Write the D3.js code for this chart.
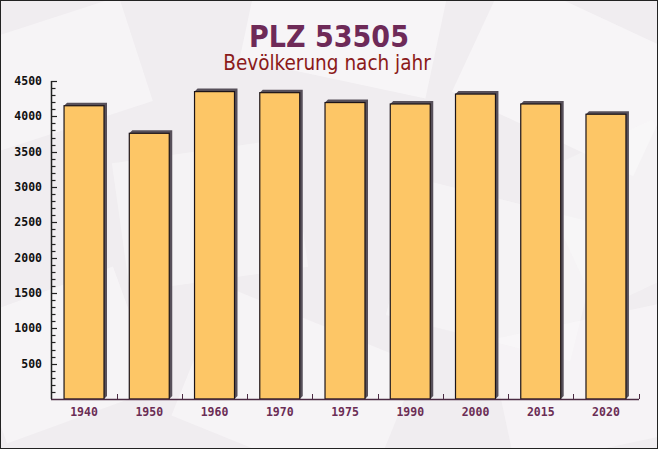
<!DOCTYPE html>
<html>
<head>
<meta charset="utf-8">
<script src="https://cdn.jsdelivr.net/npm/d3@7"></script>
<style>
  html, body { margin: 0; padding: 0; background: #fff; }
  svg { display: block; }
</style>
</head>
<body>
<svg id="chart" width="658" height="449"></svg>
<script>
const years = ["1940", "1950", "1960", "1970", "1975", "1990", "2000", "2015", "2020"];
const population = [4150, 3760, 4350, 4335, 4195, 4175, 4315, 4175, 4030];
const yTickValues = [500, 1000, 1500, 2000, 2500, 3000, 3500, 4000, 4500];
const titleText = "PLZ 53505";
const subtitleText = "Bevölkerung nach jahr";

const W = 658, H = 449;
const svg = d3.select("#chart");

// background
svg.append("rect").attr("x", 0).attr("y", 0).attr("width", W).attr("height", H).attr("fill", "#f0edf0");
const deco = [
  {x: -30, y: 20, w: 170, h: 110, r: -18, o: 0.55},
  {x: 250, y: -40, w: 190, h: 120, r: 12, o: 0.6},
  {x: 470, y: 10, w: 200, h: 130, r: 25, o: 0.6},
  {x: 120, y: 150, w: 180, h: 130, r: -8, o: 0.45},
  {x: 400, y: 200, w: 190, h: 140, r: 14, o: 0.45},
  {x: -20, y: 290, w: 160, h: 130, r: -20, o: 0.55},
  {x: 190, y: 320, w: 210, h: 140, r: 22, o: 0.55},
  {x: 500, y: 320, w: 180, h: 130, r: -12, o: 0.5},
  {x: 560, y: 140, w: 130, h: 150, r: -25, o: 0.4}
];
svg.append("g").selectAll("rect").data(deco).join("rect")
  .attr("x", d => d.x).attr("y", d => d.y).attr("width", d => d.w).attr("height", d => d.h)
  .attr("transform", d => `rotate(${d.r},${d.x + d.w / 2},${d.y + d.h / 2})`)
  .attr("fill", "#fbfafb").attr("opacity", d => d.o);

// layout
const x0 = 51, x1 = 639, yTop = 81, yBase = 399;
const x = d3.scaleBand().domain(years).range([x0, x1]).paddingInner(0.3875).paddingOuter(0.2);
const y = d3.scaleLinear().domain([0, 4500]).range([yBase, yTop]);

// bars with 3D shadow
const dx = 3, dy = 3;
const g = svg.append("g");
const bars = g.selectAll("g.bar").data(years.map((k, i) => ({k, v: population[i]}))).join("g").attr("class", "bar");
bars.append("path")
  .attr("d", d => {
    const bx = x(d.k), bw = x.bandwidth(), by = y(d.v);
    return `M${bx},${by} L${bx + dx},${by - dy} L${bx + bw + dx},${by - dy} L${bx + bw + dx},${yBase - dy} L${bx + bw},${yBase} Z`;
  })
  .attr("fill", "#57505a");
bars.append("rect")
  .attr("x", d => x(d.k)).attr("y", d => y(d.v))
  .attr("width", x.bandwidth()).attr("height", d => yBase - y(d.v))
  .attr("fill", "#fdc666")
  .attr("stroke", "#1c1418").attr("stroke-width", 1.2);

// y axis
const yAxisG = svg.append("g");
yAxisG.append("line").attr("x1", x0 + 0.5).attr("x2", x0 + 0.5).attr("y1", yTop).attr("y2", yBase).attr("stroke", "#222").attr("stroke-width", 1.5);
const minor = d3.range(100, 4501, 100);
yAxisG.selectAll("line.tk").data(minor).join("line").attr("class", "tk")
  .attr("x1", x0).attr("x2", d => x0 + (d % 500 === 0 ? 6 : 4.5))
  .attr("y1", d => Math.round(y(d)) + 0.5).attr("y2", d => Math.round(y(d)) + 0.5)
  .attr("stroke", "#222").attr("stroke-width", 1.2);
yAxisG.selectAll("text").data(yTickValues).join("text")
  .attr("x", 42).attr("y", d => y(d)).attr("dy", "0.36em")
  .attr("text-anchor", "end")
  .attr("font-family", "'DejaVu Sans Mono', monospace").attr("font-weight", "bold").attr("font-size", 11.5)
  .attr("fill", "#111").text(d => d);

// x axis
const xAxisG = svg.append("g");
xAxisG.append("line").attr("x1", x0).attr("x2", x1).attr("y1", yBase + 0.5).attr("y2", yBase + 0.5).attr("stroke", "#4a2a42").attr("stroke-width", 1.5);
const bounds = years.slice(1).map(k => x(k) - x.step() * x.paddingInner() / 2).concat([x1]);
xAxisG.selectAll("line.tk").data(bounds).join("line").attr("class", "tk")
  .attr("x1", d => Math.round(d) + 0.5).attr("x2", d => Math.round(d) + 0.5)
  .attr("y1", yBase).attr("y2", yBase - 5).attr("stroke", "#4a2a42").attr("stroke-width", 1);
xAxisG.selectAll("text").data(years).join("text")
  .attr("x", d => x(d) + x.bandwidth() / 2).attr("y", 416)
  .attr("text-anchor", "middle")
  .attr("font-family", "'DejaVu Sans Mono', monospace").attr("font-weight", "bold").attr("font-size", 11.5)
  .attr("fill", "#6b2d55").text(d => d);

// titles
svg.append("text").attr("x", 329).attr("y", 47).attr("text-anchor", "middle")
  .attr("font-family", "'DejaVu Sans Condensed', 'DejaVu Sans', sans-serif").attr("font-stretch", "condensed")
  .attr("font-weight", "bold").attr("font-size", 30).attr("fill", "#6e2a58").text(titleText);
svg.append("text").attr("x", 327).attr("y", 70).attr("text-anchor", "middle")
  .attr("font-family", "'DejaVu Sans Condensed', 'DejaVu Sans', sans-serif").attr("font-stretch", "condensed")
  .attr("font-size", 20.5).attr("fill", "#8b1a1a").text(subtitleText);

// frame
svg.append("rect").attr("x", 0.5).attr("y", 0.5).attr("width", W - 1).attr("height", H - 1)
  .attr("fill", "none").attr("stroke", "#222").attr("stroke-width", 1);
</script>
</body>
</html>
